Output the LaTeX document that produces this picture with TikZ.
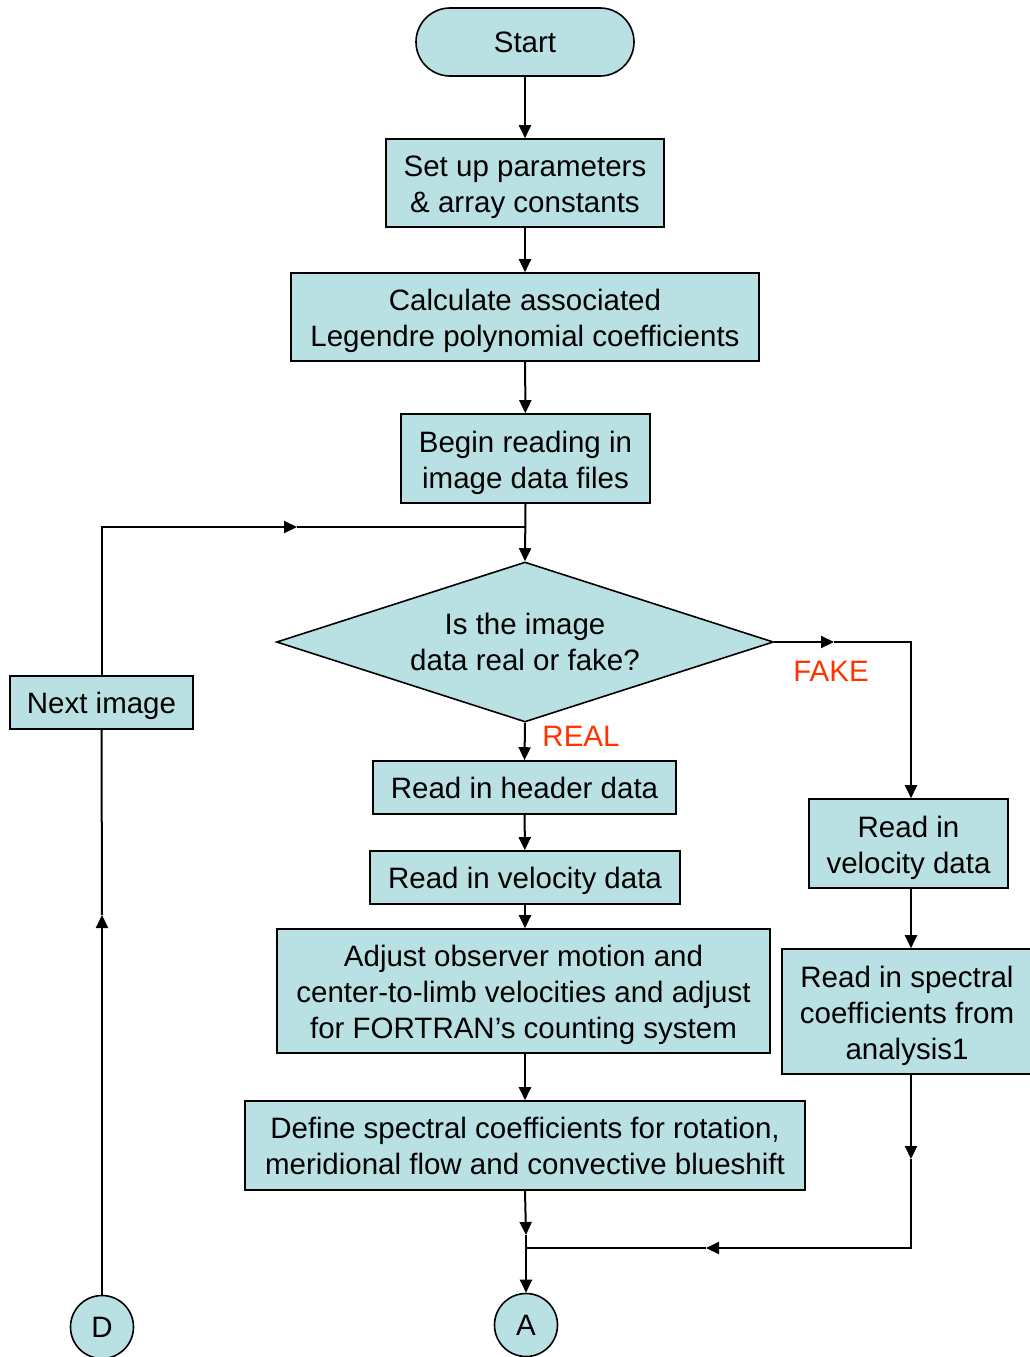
\documentclass[tikz,border=0pt]{standalone}
\usepackage{fontspec}
\setmainfont{Liberation Sans}
\usetikzlibrary{arrows.meta, shapes.geometric, positioning}

\definecolor{boxfill}{RGB}{185,224,227}
\definecolor{labelred}{RGB}{255,51,0}
% taller first line, pushes the text a little lower in its box
\newcommand{\topstrut}[1][29.5pt]{\rule{0pt}{#1}}

\begin{document}
\begin{tikzpicture}[x=1pt, y=-1pt, >={Triangle[length=13pt,width=12pt]},
    every node/.style={font=\fontsize{29.5}{36}\selectfont, align=center},
    box/.style={draw, line width=1.6pt, fill=boxfill, inner sep=0pt},
    term/.style={box, rounded corners=34pt},
    decision/.style={box, diamond, aspect=3.1},
    conn/.style={box, circle, minimum size=63pt},
    flow/.style={line width=2pt},
    tag/.style={text=labelred}]
    \useasboundingbox (0,0) rectangle (1029,1357);

    % main column
    \node[term, minimum width=218pt, minimum height=68pt] (start) at (525,42) {Start};
    \node[box, minimum width=278pt, minimum height=88pt] (setup) at (525,183) {\topstrut Set up parameters\\\& array constants};
    \node[box, minimum width=468pt, minimum height=88pt] (legendre) at (525,317) {\topstrut Calculate associated\\Legendre polynomial coefficients};
    \node[box, minimum width=249pt, minimum height=89pt] (reading) at (525.5,458.5) {\topstrut Begin reading in\\image data files};
    \node[decision, minimum width=497pt, minimum height=160pt] (realfake) at (525,642) {Is the image\\data real or fake?};
    \node[box, minimum width=303pt, minimum height=53pt] (header) at (524.5,787.5) {Read in header data};
    \node[box, minimum width=310pt, minimum height=53pt] (velocity) at (525,877.5) {\topstrut[27.5pt]Read in velocity data};
    \node[box, minimum width=493pt, minimum height=124pt] (adjust) at (523.5,991) {\topstrut Adjust observer motion and\\center-to-limb velocities and adjust\\for FORTRAN's counting system};
    \node[box, minimum width=560pt, minimum height=89pt] (define) at (525,1145.5) {Define spectral coefficients for rotation,\\meridional flow and convective blueshift};
    \node[conn] (A) at (526,1325) {A};

    % loop back and the fake branch
    \node[box, minimum width=183pt, minimum height=53pt] (nextimg) at (101.5,702.5) {\topstrut[27.5pt]Next image};
    \node[conn] (D) at (102,1327) {D};
    \node[box, minimum width=199pt, minimum height=89pt] (fakevel) at (908.5,843.5) {\topstrut Read in\\velocity data};
    \node[box, minimum width=250pt, minimum height=125pt] (spectral) at (907,1011.5) {\topstrut Read in spectral\\coefficients from\\analysis1};

    \node[tag] (fake) at (831,671) {FAKE};
    \node[tag] (real) at (581,736) {REAL};

    \coordinate (rightcol) at (911,0);
    \coordinate (loopmid) at (297,527);
    \coordinate (upmid) at (102,915);
    \coordinate (fakemid) at (834,642);
    \coordinate (downmid) at (911,1159);
    \coordinate (backmid) at (706,1248);
    \coordinate (merge) at (526,1248);
    \coordinate (mergemid) at (526,1235);

    \draw[flow,->] (start) -- (setup);
    \draw[flow,->] (setup) -- (legendre);
    \draw[flow,->] (legendre) -- (reading);
    \draw[flow,->] (reading.south) -- (realfake.north);
    \draw[flow,->] (realfake.south) -- (header.north);
    \draw[flow,->] (header) -- (velocity);
    \draw[flow,->] (velocity.south) -- (velocity.south |- adjust.north);
    \draw[flow,->] (adjust.south -| define.north) -- (define.north);
    \draw[flow,->] (define.south) -- (mergemid);
    \draw[flow,->] (mergemid) -- (A.north);

    % next image loop
    \draw[flow,->] (D.north) -- (upmid);
    \draw[flow] (upmid) -- (nextimg.south);
    \draw[flow,->] (nextimg.north) |- (loopmid);
    \draw[flow] (loopmid) -- (reading.south |- loopmid);

    % fake data branch
    \draw[flow,->] (realfake.east) -- (fakemid);
    \draw[flow,->] (fakemid) -| (rightcol |- fakevel.north);
    \draw[flow,->] (rightcol |- fakevel.south) -- (rightcol |- spectral.north);
    \draw[flow,->] (rightcol |- spectral.south) -- (downmid);
    \draw[flow,->] (downmid) |- (backmid);
    \draw[flow] (backmid) -- (merge);
\end{tikzpicture}
\end{document}
